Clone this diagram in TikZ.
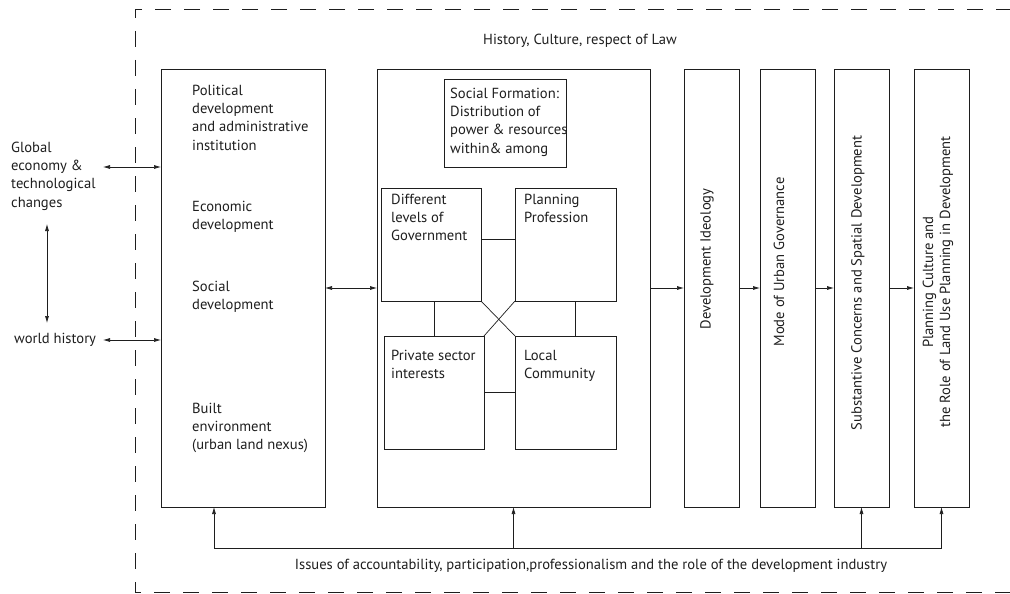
\documentclass[tikz,border=0pt]{standalone}
\usepackage{fontspec}
\setmainfont{PT Sans}
\usetikzlibrary{arrows.meta}
\definecolor{inkgray}{HTML}{1E1E1E}

\begin{document}
\begin{tikzpicture}[x=1pt,y=-1pt,%
box/.style={draw=inkgray,line width=0.8pt,inner sep=0pt,outer sep=0pt,anchor=north west},
txt/.style={inner sep=0pt,anchor=north west,align=left,text=inkgray,font=\fontsize{14.6}{18.2}\selectfont},
note/.style={inner sep=0pt,text=inkgray,font=\fontsize{14.6}{18.2}\selectfont},
vtxt/.style={inner sep=0pt,rotate=90,align=center,text=inkgray,font=\fontsize{14.6}{17}\selectfont},
arrow/.style={draw=inkgray,line width=0.7pt,-{Latex[length=7pt,width=4pt]}},
both/.style={draw=inkgray,line width=0.7pt,{Latex[length=7pt,width=4pt]}-{Latex[length=7pt,width=4pt]}},
link/.style={draw=inkgray,line width=0.7pt},
frame/.style={draw=inkgray,line width=0.8pt,dash pattern=on 16pt off 13pt}
]
\useasboundingbox (0,0) rectangle (1010,594);
% outer dashed frame
\draw[style=frame] (1012,9) -- (135,9) -- (135,592) -- (1012,592);
\node[style=note] (law) at (580,41) {History, Culture, respect of Law};
\node[style=note] (issues) at (591,566) {Issues of accountability, participation,professionalism and the role of the development industry};

% outside influences
\node[style=txt] (global) at (11,142) {Global\\economy \&\\technological\\changes};
\node[style=note,anchor=west] (world) at (14,340) {world history};

% context box
\node[style=box,minimum width=164pt,minimum height=438pt] (env) at (161,69) {};
\node[style=txt] (political) at (192,85) {Political\\development\\and administrative\\institution};
\node[style=txt] (economic) at (192,201) {Economic\\development};
\node[style=txt] (social) at (192,281) {Social\\development};
\node[style=txt] (built) at (192,403) {Built\\environment\\(urban land nexus)};

% social formation box
\node[style=box,minimum width=273pt,minimum height=438pt] (form) at (377,69) {};
\node[style=box,minimum width=122pt,minimum height=88pt] (sf) at (444,79) {};
\node[style=txt] (sf text) at (450,88) {Social Formation:\\Distribution of\\power \& resources\\within\& among};
\node[style=box,minimum width=100pt,minimum height=113pt] (gov) at (381,188) {};
\node[style=txt] (gov text) at (391,194) {Different\\levels of\\Government};
\node[style=box,minimum width=101pt,minimum height=113pt] (prof) at (515,188) {};
\node[style=txt] (prof text) at (524,194) {Planning\\Profession};
\node[style=box,minimum width=100pt,minimum height=113pt] (priv) at (384,336) {};
\node[style=txt] (priv text) at (391,350) {Private sector\\interests};
\node[style=box,minimum width=101pt,minimum height=113pt] (comm) at (515,336) {};
\node[style=txt] (comm text) at (524,350) {Local\\Community};

% outcome boxes
\node[style=box,minimum width=55pt,minimum height=438pt] (ideo) at (684,69) {};
\node[style=vtxt] (ideo text) at (707,259) {Development Ideology};
\node[style=box,minimum width=55pt,minimum height=438pt] (mode) at (760,69) {};
\node[style=vtxt] (mode text) at (779,262) {Mode of Urban Governance};
\node[style=box,minimum width=55pt,minimum height=438pt] (subst) at (834,69) {};
\node[style=vtxt] (subst text) at (858,283) {Substantive Concerns and Spatial Development};
\node[style=box,minimum width=55pt,minimum height=438pt] (plan) at (914,69) {};
\node[style=vtxt] (plan text) at (938,282) {Planning Culture and\\the Role of Land Use Planning in Development};

% links inside the social formation
\path[style=link] (gov.east |- 0,239) -- (prof.west |- 0,239);
\path[style=link] (priv.east) -- (comm.west);
\path[style=link] (gov.south -| 434,0) -- (priv.north -| 434,0);
\path[style=link] (prof.south -| 575,0) -- (comm.north -| 575,0);
\path[style=link] (gov.south east) -- (comm.north west);
\path[style=link] (prof.south west) -- (priv.north east);

% main flow
\coordinate (globin) at (103,167);
\coordinate (worldin) at (103,340);
\coordinate (up) at (47,224);
\coordinate (down) at (47,323);
\path[style=both] (globin) -- (globin -| env.west);
\path[style=both] (worldin) -- (worldin -| env.west);
\path[style=both] (up) -- (down);
\path[style=both] (env.east) -- (form.west);
\path[style=arrow] (form.east) -- (ideo.west);
\path[style=arrow] (ideo.east) -- (mode.west);
\path[style=arrow] (mode.east) -- (subst.west);
\path[style=arrow] (subst.east) -- (plan.west);

% feedback from the issues
\coordinate (bus) at (214,548);
\path[style=link] (bus) -- (bus -| plan.south);
\path[style=arrow] (bus) -- (bus |- env.south);
\path[style=arrow] (bus -| form.south) -- (form.south);
\path[style=arrow] (bus -| subst.south) -- (subst.south);
\path[style=arrow] (bus -| plan.south) -- (plan.south);
\end{tikzpicture}
\end{document}
